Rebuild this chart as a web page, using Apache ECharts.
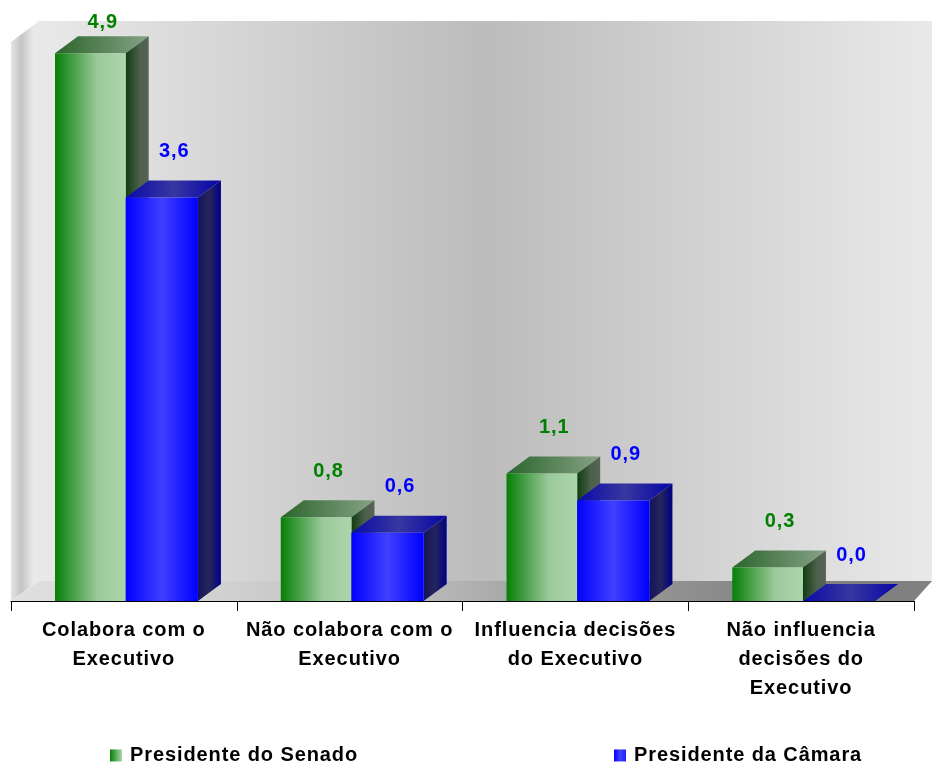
<!DOCTYPE html>
<html><head><meta charset="utf-8">
<style>html,body{margin:0;padding:0;background:#fff}#c{width:932px;height:764px}</style>
<script src="https://cdn.jsdelivr.net/npm/echarts@6/dist/echarts.min.js"></script>
</head><body><div id="c"></div>
<script>
var categories = ['Colabora com o\nExecutivo','Não colabora com o\nExecutivo','Influencia decisões\ndo Executivo','Não influencia\ndecisões do\nExecutivo'];
var senado = [4.9, 0.75, 1.14, 0.30];
var camara = [3.61, 0.61, 0.90, 0.0];
var seriesNames = ['Presidente do Senado','Presidente da Câmara'];

// uniform tracking, as in the reference's text
var origGet = HTMLCanvasElement.prototype.getContext;
HTMLCanvasElement.prototype.getContext = function(t,o){
  var ctx = origGet.call(this,t,o);
  if (t==='2d' && ctx && 'letterSpacing' in ctx) ctx.letterSpacing='0.9px';
  return ctx;
};

var G = function(stops){
  return new echarts.graphic.LinearGradient(0,0,1,0,stops.map(function(s){return {offset:s[0],color:s[1]};}));
};
var green = {front:[[0,'#067f06'],[0.6,'#9cc99c'],[1,'#abd6ab']], top:[[0,'#2c652c'],[1,'#86a286']], side:[[0,'#0f3d0f'],[0.6,'#4d5f4d'],[1,'#566456']], label:'#008000', width:0.313};
var blue = {front:[[0,'#0000ff'],[0.5,'#4040ff'],[1,'#0000ff']], top:[[0,'#0a0aa8'],[0.5,'#3737a0'],[1,'#0505a8']], side:[[0,'#14145e'],[0.5,'#25255a'],[1,'#000088']], label:'#0000ff', width:0.32};
var DX=23, DY=17;

function bar(palette, side){
  return function(params, api){
    var band = api.size([1,0])[0], w = band*palette.width;
    var c = api.coord([api.value(0), api.value(1)]);
    var b = api.coord([api.value(0), 0]);
    var x0 = c[0]+band*0.008+(side<0?-w:0), x1=x0+w, y0=c[1], y1=b[1];
    var poly=function(pts,fill){return {type:'polygon',silent:true,shape:{points:pts},style:{fill:fill}};};
    var kids=[
      poly([[x0,y0],[x1,y0],[x1+DX,y0-DY],[x0+DX,y0-DY]],G(palette.top)),
      poly([[x1,y0],[x1+DX,y0-DY],[x1+DX,y1-DY],[x1,y1]],G(palette.side))
    ];
    if (y1-y0>0.5) kids.push(poly([[x0,y0],[x1,y0],[x1,y1],[x0,y1]],G(palette.front)));
    kids.push({type:'text',silent:true,style:{
      text:api.value(1).toFixed(1).replace('.',','),
      x:(x0+x1)/2+DX/2+1, y:Math.max(y0-46,22),
      fill:palette.label, font:'bold 20px "Liberation Sans"', align:'center', verticalAlign:'middle'}});
    return {type:'group',children:kids};
  };
}
function rows(a){return a.map(function(v,i){return [i,v];});}

var chart = echarts.init(document.getElementById('c'),null,{renderer:'canvas',width:932,height:764});
var legendText = {color:'#000',fontWeight:'bold',fontSize:20,fontFamily:'"Liberation Sans"',padding:[0,0,0,3],width:240};
chart.setOption({
  animation:false,
  backgroundColor:'#fff',
  textStyle:{fontFamily:'"Liberation Sans"'},
  graphic:{elements:[
    {type:'polygon',silent:true,z:-3,shape:{points:[[39,21],[932,21],[932,581],[39,581]]},
      style:{fill:G([[0,'#e9e9e9'],[0.5,'#bcbcbc'],[1,'#e9e9e9']])}},
    {type:'polygon',silent:true,z:-3,shape:{points:[[11,42],[39,21],[39,581],[11,601]]},
      style:{fill:G([[0,'#e4e4e4'],[0.36,'#c4c4c4'],[0.8,'#e9e9e9'],[1,'#e9e9e9']])}},
    {type:'polygon',silent:true,z:-3,shape:{points:[[11,601],[39,581],[932,581],[914,601]]},
      style:{fill:G([[0,'#e0e0e0'],[0.24,'#d0d0d0'],[0.47,'#b5b5b5'],[0.53,'#aaaaaa'],[0.73,'#909090'],[0.85,'#808080'],[1,'#808080']])}}
  ]},
  grid:{left:11,right:18,top:42,bottom:163,containLabel:false},
  xAxis:{type:'category',data:categories,boundaryGap:true,
    axisLine:{lineStyle:{color:'#000',width:1}},
    axisTick:{show:true,length:10,alignWithLabel:false,lineStyle:{color:'#000'}},
    axisLabel:{color:'#000',fontWeight:'bold',fontSize:20,lineHeight:29,margin:15,interval:0,fontFamily:'"Liberation Sans"'}},
  yAxis:{type:'value',min:0,max:5,show:false,splitLine:{show:false}},
  legend:[
    {left:105,top:740,data:[seriesNames[0]],itemWidth:12,itemHeight:12,icon:'rect',textStyle:legendText},
    {left:609,top:740,data:[seriesNames[1]],itemWidth:12,itemHeight:12,icon:'rect',textStyle:legendText}
  ],
  series:[
    {name:seriesNames[0],type:'custom',data:rows(senado),encode:{x:0,y:1},clip:false,
      itemStyle:{color:G([[0,'#067f06'],[1,'#abd6ab']])},renderItem:bar(green,-1)},
    {name:seriesNames[1],type:'custom',data:rows(camara),encode:{x:0,y:1},clip:false,
      itemStyle:{color:G([[0,'#0000ff'],[0.5,'#4040ff'],[1,'#2020ff']])},renderItem:bar(blue,1)}
  ]
});
</script></body></html>
